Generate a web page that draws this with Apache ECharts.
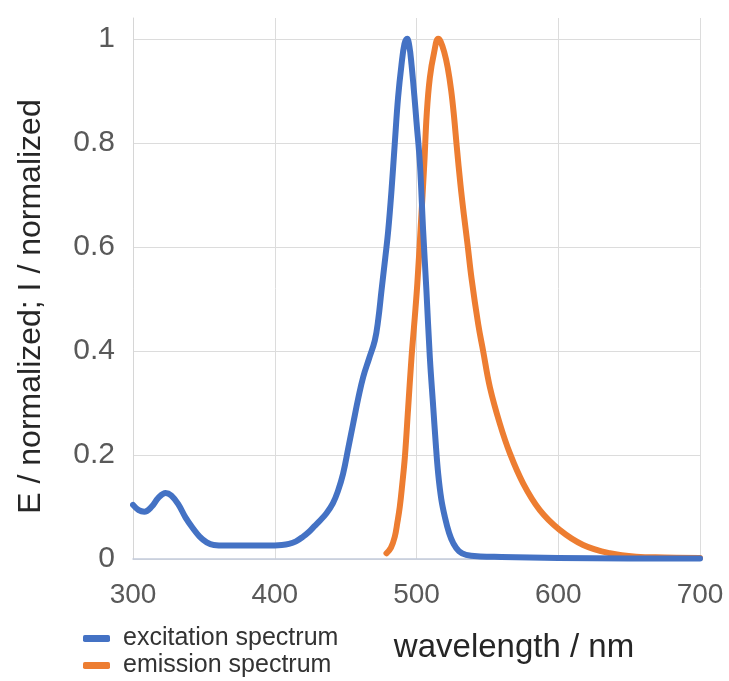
<!DOCTYPE html>
<html>
<head>
<meta charset="utf-8">
<script src="https://cdn.jsdelivr.net/npm/echarts@6/dist/echarts.min.js"></script>
<style>
html,body{margin:0;padding:0;background:#fff;}
#chart{width:729px;height:681px;}
</style>
</head>
<body>
<div id="chart"></div>
<script>
// Excitation spectrum (wavelength nm, normalized E)
var excitationX = [300,304,308,313,318,323,327,332,337,342,347,352,357,365,375,385,395,405,410,415,420,424,428,432,436.5,441,444.5,448.2,452,455.3,459,462.4,466.5,470.6,473,475.3,478,480,482.4,484.7,487,489.4,491.5,493.4,495,496.5,498.5,500,502.4,504.7,507,509.4,511.8,513.5,515.3,517.5,520,523,526,530,535,545,560,580,600,650,700];
var excitationY = [0.104,0.094,0.091,0.100,0.118,0.127,0.122,0.105,0.080,0.060,0.043,0.032,0.027,0.026,0.026,0.026,0.026,0.027,0.029,0.034,0.043,0.052,0.063,0.074,0.088,0.107,0.13,0.164,0.215,0.26,0.31,0.35,0.385,0.42,0.46,0.516,0.58,0.63,0.71,0.80,0.887,0.95,0.99,1.0,0.985,0.95,0.89,0.84,0.76,0.63,0.516,0.388,0.292,0.225,0.164,0.115,0.081,0.05,0.03,0.015,0.008,0.005,0.004,0.003,0.002,0.001,0.001];
// Emission spectrum (wavelength nm, normalized I)
var emissionX = [478.8,482,484.7,486.5,488.2,490,491.8,494.1,496.5,498.8,500.6,503,505.5,507.2,509.4,512.5,515.3,517,519.5,522,524.5,526.5,528.5,531,533.5,536,538.8,543.5,547,551.8,558.8,565.9,575.3,587,601,617.6,636.5,655,675,700];
var emissionY = [0.011,0.022,0.043,0.07,0.10,0.145,0.196,0.29,0.388,0.465,0.53,0.64,0.76,0.855,0.925,0.975,1.0,0.995,0.975,0.945,0.9,0.85,0.79,0.72,0.66,0.605,0.54,0.452,0.40,0.33,0.26,0.203,0.145,0.094,0.056,0.027,0.011,0.0045,0.003,0.002];
var seriesNames = ['excitation spectrum','emission spectrum'];
var xAxisTitle = 'wavelength / nm';
var yAxisTitle = 'E / normalized; I / normalized';

function pairs(xs, ys){ return xs.map(function(x,i){ return [x, ys[i]]; }); }

var FONT = '"Liberation Sans", Arial, sans-serif';
var gridColor = '#dcdcdc';
var chart = echarts.init(document.getElementById('chart'), null, {renderer:'canvas'});
chart.setOption({
  animation:false,
  backgroundColor:'#fff',
  grid:{left:133, right:29, top:18, bottom:122, containLabel:false},
  legend:{
    orient:'vertical', left:83, top:625, height:80, padding:0, itemGap:0,
    itemWidth:27, itemHeight:7, icon:'roundRect',
    textStyle:{fontFamily:FONT, fontSize:25, lineHeight:27, color:'#333', padding:[0,0,0,8]},
    data:seriesNames
  },
  xAxis:{
    type:'value', min:300, max:700, interval:100,
    name:xAxisTitle, nameLocation:'middle', nameGap:72,
    nameTextStyle:{fontFamily:FONT, fontSize:33, color:'#262626', padding:[0,0,0,195]},
    axisLine:{show:true, onZero:false, lineStyle:{color:'#c3cbdc', width:1.5}},
    axisTick:{show:false},
    axisLabel:{fontFamily:FONT, fontSize:28, color:'#595959', margin:22},
    splitLine:{show:true, lineStyle:{color:gridColor, width:1}}
  },
  yAxis:{
    type:'value', min:0, max:1.04, interval:0.2,
    name:yAxisTitle, nameLocation:'middle', nameRotate:90, nameGap:86,
    nameTextStyle:{fontFamily:FONT, fontSize:32, color:'#262626', padding:[0,36,0,0]},
    axisLine:{show:true, lineStyle:{color:'#d6d6d6', width:1}},
    axisTick:{show:false},
    axisLabel:{fontFamily:FONT, fontSize:30, color:'#595959', margin:18, showMaxLabel:false,
      formatter:function(v){ return Math.abs(v*5 - Math.round(v*5))<1e-6 ? String(+v.toFixed(1)) : ''; }},
    splitLine:{show:true, lineStyle:{color:[gridColor,gridColor,gridColor,gridColor,gridColor,gridColor,'rgba(0,0,0,0)'], width:1}}
  },
  series:[
    {name:seriesNames[0], type:'line', data:pairs(excitationX, excitationY), showSymbol:false, smooth:0.4,
     lineStyle:{color:'#4472c4', width:6, cap:'round', join:'round'}, itemStyle:{color:'#4472c4'}, z:3},
    {name:seriesNames[1], type:'line', data:pairs(emissionX, emissionY), showSymbol:false, smooth:0.4,
     lineStyle:{color:'#ed7d31', width:6, cap:'round', join:'round'}, itemStyle:{color:'#ed7d31'}, z:2}
  ]
});
</script>
</body>
</html>
